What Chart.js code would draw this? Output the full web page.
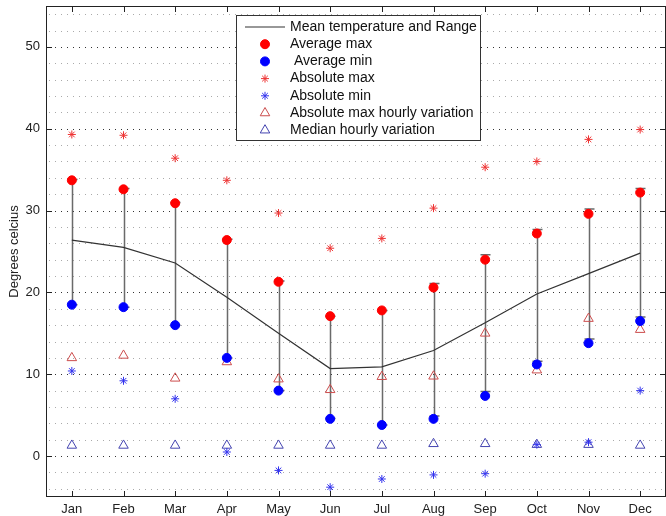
<!DOCTYPE html>
<html>
<head>
<meta charset="utf-8">
<script src="https://cdn.jsdelivr.net/npm/chart.js@4.4.0/dist/chart.umd.min.js"></script>
<style>
  html, body { margin: 0; padding: 0; background: #fff; }
</style>
</head>
<body>
<canvas id="grafico" width="666" height="516"></canvas>
<script>
// Datos mensuales de temperatura
const months = ["Jan", "Feb", "Mar", "Apr", "May", "Jun", "Jul", "Aug", "Sep", "Oct", "Nov", "Dec"];
const meanTemp = [26.4, 25.5, 23.6, 19.4, 15.0, 10.7, 10.9, 12.9, 16.3, 19.8, 22.3, 24.8];
const rangeHigh = [33.8, 32.7, 31.0, 26.5, 21.4, 17.1, 17.8, 21.1, 24.6, 27.7, 30.2, 32.7];
const rangeLow = [18.5, 18.2, 16.0, 12.0, 8.0, 4.6, 3.8, 4.9, 7.9, 11.6, 14.3, 17.0];
const avgMax = [33.7, 32.6, 30.9, 26.4, 21.3, 17.1, 17.8, 20.6, 24.0, 27.2, 29.6, 32.2];
const avgMin = [18.5, 18.2, 16.0, 12.0, 8.0, 4.55, 3.8, 4.55, 7.35, 11.2, 13.8, 16.5];
const absMax = [39.3, 39.2, 36.4, 33.7, 29.7, 25.4, 26.6, 30.3, 35.3, 36.0, 38.7, 39.9];
const absMin = [10.4, 9.2, 7.0, 0.5, -1.75, -3.8, -2.8, -2.3, -2.15, 1.4, 1.7, 8.0];
const maxHourlyVar = [12.0, 12.3, 9.5, 11.5, 9.4, 8.1, 9.7, 9.75, 15.0, 10.5, 16.8, 15.45];
const medianHourlyVar = [1.3, 1.3, 1.3, 1.3, 1.3, 1.3, 1.3, 1.5, 1.5, 1.4, 1.4, 1.3];
const yTicks = [0, 10, 20, 30, 40, 50];

const FONT = '"Liberation Sans", Arial, Helvetica, sans-serif';

// Rejilla punteada, barras de rango y marco con marcas hacia dentro
const fondoPlugin = {
  id: "fondo",
  beforeDatasetsDraw(chart) {
    const { ctx, chartArea: a, scales } = chart;
    const y = scales.y, x = scales.x;
    ctx.save();
    ctx.lineWidth = 1;
    ctx.setLineDash([1, 5]);
    for (let v = -4; v <= 54; v += 2) {
      const py = Math.round(y.getPixelForValue(v)) + 0.5;
      ctx.strokeStyle = v % 10 === 0 ? "#333" : "#aaa";
      ctx.beginPath();
      ctx.moveTo(a.left + 3, py);
      ctx.lineTo(a.right, py);
      ctx.stroke();
    }
    ctx.setLineDash([]);

    // lineas de rango con tope
    ctx.strokeStyle = "#6a6a6a";
    ctx.lineWidth = 1.5;
    months.forEach((m, i) => {
      const px = Math.round(x.getPixelForValue(i)) + 0.5;
      const top = y.getPixelForValue(rangeHigh[i]);
      const bot = y.getPixelForValue(rangeLow[i]);
      ctx.beginPath();
      ctx.moveTo(px, top);
      ctx.lineTo(px, bot);
      ctx.moveTo(px - 5, top);
      ctx.lineTo(px + 5, top);
      ctx.moveTo(px - 5, bot);
      ctx.lineTo(px + 5, bot);
      ctx.stroke();
    });
    ctx.restore();
  },
  afterDatasetsDraw(chart) {
    const { ctx, chartArea: a, scales } = chart;
    ctx.save();
    ctx.strokeStyle = "#222";
    ctx.lineWidth = 1;
    ctx.strokeRect(a.left + 0.5, a.top + 0.5, a.right - a.left - 1, a.bottom - a.top - 1);
    ctx.beginPath();
    yTicks.forEach(v => {
      const py = Math.round(scales.y.getPixelForValue(v)) + 0.5;
      ctx.moveTo(a.left, py); ctx.lineTo(a.left + 6, py);
      ctx.moveTo(a.right, py); ctx.lineTo(a.right - 6, py);
    });
    months.forEach((m, i) => {
      const px = Math.round(scales.x.getPixelForValue(i)) + 0.5;
      ctx.moveTo(px, a.bottom); ctx.lineTo(px, a.bottom - 6);
      ctx.moveTo(px, a.top); ctx.lineTo(px, a.top + 6);
    });
    ctx.stroke();
    ctx.restore();
  }
};

// Leyenda con recuadro dentro del area del grafico
const leyendaPlugin = {
  id: "leyenda",
  afterDraw(chart, args, opts) {
    const ctx = chart.ctx;
    const { x, y, width, height, rowHeight } = opts;
    ctx.save();
    ctx.fillStyle = "#fff";
    ctx.fillRect(x, y, width, height);
    ctx.strokeStyle = "#333";
    ctx.lineWidth = 1;
    ctx.strokeRect(x + 0.5, y + 0.5, width, height);
    ctx.font = "14px " + FONT;
    ctx.textBaseline = "middle";
    chart.data.datasets.forEach((ds, i) => {
      const cy = y + 12 + i * rowHeight;
      if (ds.showLine) {
        ctx.strokeStyle = ds.borderColor;
        ctx.lineWidth = ds.borderWidth;
        ctx.beginPath();
        ctx.moveTo(x + 9, cy);
        ctx.lineTo(x + 49, cy);
        ctx.stroke();
      } else {
        ctx.fillStyle = ds.pointBackgroundColor;
        ctx.strokeStyle = ds.pointBorderColor;
        ctx.lineWidth = ds.pointBorderWidth;
        Chart.helpers.drawPoint(ctx, {
          pointStyle: ds.pointStyle,
          radius: ds.pointRadius,
          rotation: 0,
          borderWidth: ds.pointBorderWidth
        }, x + 29, cy);
      }
      ctx.fillStyle = "#111";
      ctx.fillText(ds.label, x + 54, cy);
    });
    ctx.restore();
  }
};

function puntos(label, data, style, radius, fill, stroke, width) {
  return {
    label, data,
    showLine: false,
    pointStyle: style,
    pointRadius: radius,
    pointBackgroundColor: fill,
    pointBorderColor: stroke,
    pointBorderWidth: width,
    borderColor: stroke,
    backgroundColor: fill
  };
}

new Chart(document.getElementById("grafico"), {
  type: "line",
  data: {
    labels: months,
    datasets: [
      {
        label: "Mean temperature and Range",
        data: meanTemp,
        showLine: true,
        borderColor: "#333",
        borderWidth: 1.2,
        pointRadius: 0,
        tension: 0
      },
      puntos("Average max", avgMax, "circle", 4.5, "#ff0000", "#ff0000", 1),
      puntos(" Average min", avgMin, "circle", 4.5, "#0000ff", "#0000ff", 1),
      puntos("Absolute max", absMax, "star", 4, "rgba(0,0,0,0)", "#ee3333", 1),
      puntos("Absolute min", absMin, "star", 4, "rgba(0,0,0,0)", "#3333ee", 1),
      puntos("Absolute max hourly variation", maxHourlyVar, "triangle", 5.5, "rgba(0,0,0,0)", "#cc4d4d", 1),
      puntos("Median hourly variation", medianHourlyVar, "triangle", 5.5, "rgba(0,0,0,0)", "#4444b0", 1)
    ]
  },
  options: {
    responsive: false,
    animation: false,
    layout: { autoPadding: false, padding: { top: 6, right: 0, bottom: 0, left: 0 } },
    scales: {
      x: {
        type: "category",
        offset: true,
        grid: { display: false, drawTicks: false },
        border: { display: false },
        ticks: {
          autoSkip: false,
          maxRotation: 0,
          padding: 5,
          color: "#222",
          font: { family: FONT, size: 13 }
        },
        afterFit(scale) {
          scale.height = 19;
          scale.paddingLeft = 0;
          scale.paddingRight = 0;
        }
      },
      y: {
        type: "linear",
        min: -5,
        max: 55,
        grid: { display: false, drawTicks: false },
        border: { display: false },
        afterBuildTicks(scale) {
          scale.ticks = yTicks.map(v => ({ value: v }));
        },
        ticks: {
          padding: 6,
          color: "#222",
          font: { family: FONT, size: 13 }
        },
        title: {
          display: true,
          text: "Degrees celcius",
          color: "#222",
          padding: { top: 7, bottom: 0 },
          font: { family: FONT, size: 13 }
        },
        afterFit(scale) {
          scale.width = 46;
          scale.paddingTop = 0;
          scale.paddingBottom = 0;
        }
      }
    },
    plugins: {
      legend: { display: false },
      tooltip: { enabled: false },
      leyenda: { x: 236, y: 15, width: 244, height: 125, rowHeight: 17.2 }
    }
  },
  plugins: [fondoPlugin, leyendaPlugin]
});
</script>
</body>
</html>
